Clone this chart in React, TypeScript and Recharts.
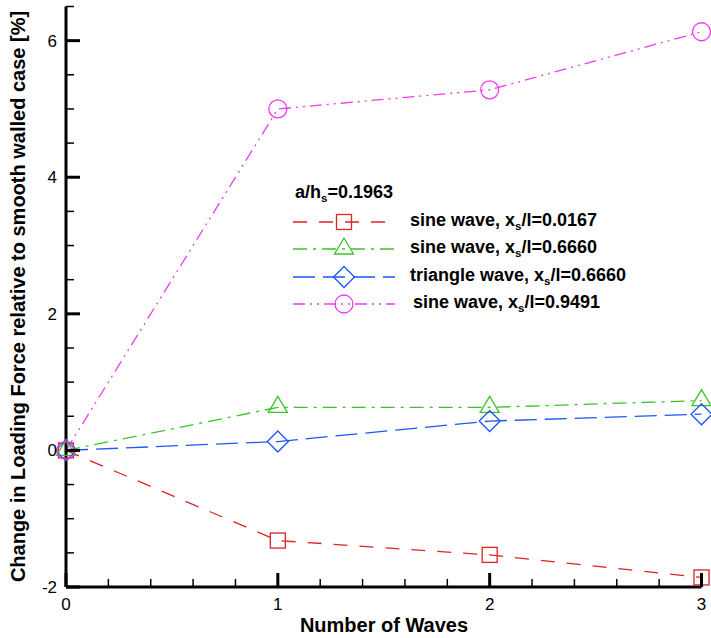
import React from 'react'
import { Line, LineChart, XAxis, YAxis } from 'recharts'

// number of waves on the wall
const waves = [0, 1, 2, 3]

// change in loading force [%] for each wall shape
const sineXs0167 = [0, -1.32, -1.53, -1.86]
const sineXs6660 = [0, 0.63, 0.63, 0.73]
const triangleXs6660 = [0, 0.13, 0.43, 0.53]
const sineXs9491 = [0, 5.0, 5.28, 6.13]

const xMajorTicks = [0, 1, 2, 3]
const yMajorTicks = [-2, 0, 2, 4, 6]
// minor ticks every 0.2 on x and every 0.5 on y
const xAllTicks = Array.from({ length: 16 }, (_, i) => Math.round(i * 2) / 10)
const yAllTicks = Array.from({ length: 18 }, (_, i) => -2 + i * 0.5)

const legendTitle = { base: 'a/h', sub: 's', rest: '=0.1963' }

type Shape = 'square' | 'triangle' | 'diamond' | 'circle'

const series: { key: string; wave: string; ratio: string; color: string; dash: string; shape: Shape }[] = [
  { key: 'sine0167', wave: 'sine wave', ratio: '0.0167', color: '#e02222', dash: '14 12', shape: 'square' },
  { key: 'sine6660', wave: 'sine wave', ratio: '0.6660', color: '#3cc42a', dash: '14 6 3 6', shape: 'triangle' },
  { key: 'tri6660', wave: 'triangle wave', ratio: '0.6660', color: '#1f55f5', dash: '22 8', shape: 'diamond' },
  { key: 'sine9491', wave: 'sine wave', ratio: '0.9491', color: '#ee3cee', dash: '12 5 2 5 2 5', shape: 'circle' },
]

const rows = waves.map((n, i) => ({
  n,
  sine0167: sineXs0167[i],
  sine6660: sineXs6660[i],
  tri6660: triangleXs6660[i],
  sine9491: sineXs9491[i],
}))

const FONT = '"Liberation Sans", Arial, Helvetica, sans-serif'

const isMajor = (v: number, majors: number[]) => majors.some((m) => Math.abs(m - v) < 1e-6)

function Marker({ cx, cy, shape, color }: { cx: number; cy: number; shape: Shape; color: string }) {
  const common = { fill: 'none', stroke: color, strokeWidth: 1.3 }
  if (shape === 'square') return <rect x={cx - 7.5} y={cy - 7.5} width={15} height={15} {...common} />
  if (shape === 'triangle')
    return <polygon points={`${cx},${cy - 11} ${cx + 9.5},${cy + 5} ${cx - 9.5},${cy + 5}`} {...common} />
  if (shape === 'diamond')
    return <polygon points={`${cx},${cy - 10.5} ${cx + 10.5},${cy} ${cx},${cy + 10.5} ${cx - 10.5},${cy}`} {...common} />
  return <circle cx={cx} cy={cy} r={9} {...common} />
}

function YTick({ x, y, payload }: any) {
  if (!isMajor(payload.value, yMajorTicks)) {
    return <line x1={x} y1={y} x2={x + 8} y2={y} stroke="#000" strokeWidth={1.5} />
  }
  return (
    <g>
      <line x1={x} y1={y} x2={x + 14} y2={y} stroke="#000" strokeWidth={3} />
      <text x={x - 9} y={y + 6} textAnchor="end" fontSize={17} fontFamily={FONT} fill="#000">
        {payload.value}
      </text>
    </g>
  )
}

function XTick({ x, y, payload }: any) {
  if (!isMajor(payload.value, xMajorTicks)) {
    return <line x1={x} y1={y} x2={x} y2={y - 8} stroke="#000" strokeWidth={1.5} />
  }
  return (
    <g>
      <line x1={x} y1={y} x2={x} y2={y - 14} stroke="#000" strokeWidth={3} />
      <text x={x} y={y + 23} textAnchor="middle" fontSize={17} fontFamily={FONT} fill="#000">
        {payload.value}
      </text>
    </g>
  )
}

function LegendBox() {
  const rowY = [42, 69, 97, 124]
  const textX = [130, 130, 130, 133]
  return (
    <svg width={420} height={140} style={{ fontFamily: FONT, overflow: 'visible', display: 'block' }}>
      <text x={15} y={18} fontSize={18} fontWeight="bold">
        {legendTitle.base}
        <tspan dy={4} fontSize={11.5}>{legendTitle.sub}</tspan>
        <tspan dy={-4}>{legendTitle.rest}</tspan>
      </text>
      {series.map((s, i) => (
        <g key={s.key}>
          <line x1={13} y1={rowY[i]} x2={115} y2={rowY[i]} stroke={s.color} strokeWidth={1.3} strokeDasharray={s.dash} />
          <Marker cx={64} cy={rowY[i]} shape={s.shape} color={s.color} />
          <text x={textX[i]} y={rowY[i] + 4} fontSize={18} fontWeight="bold">
            {s.wave}, x
            <tspan dy={4} fontSize={11.5}>s</tspan>
            <tspan dy={-4}>/l={s.ratio}</tspan>
          </text>
        </g>
      ))}
    </svg>
  )
}

export default function App() {
  return (
    <div style={{ position: 'absolute', left: 0, top: 0, width: 711, height: 638, background: '#fff' }}>
      <LineChart
        width={711}
        height={638}
        data={rows}
        margin={{ top: 6.5, right: 9.5, bottom: 50, left: 65 }}
        style={{ fontFamily: FONT }}
      >
        <XAxis
          dataKey="n"
          type="number"
          domain={[0, 3]}
          ticks={xAllTicks}
          interval={0}
          height={1}
          tickSize={0}
          tickMargin={0}
          tickLine={false}
          axisLine={{ stroke: '#000', strokeWidth: 3 }}
          tick={<XTick />}
        />
        <YAxis
          type="number"
          domain={[-2, 6.5]}
          ticks={yAllTicks}
          interval={0}
          width={1}
          tickSize={0}
          tickMargin={0}
          tickLine={false}
          axisLine={{ stroke: '#000', strokeWidth: 3 }}
          tick={<YTick />}
        />
        {series.map((s) => (
          <Line
            key={s.key}
            dataKey={s.key}
            stroke={s.color}
            strokeWidth={1.3}
            strokeDasharray={s.dash}
            isAnimationActive={false}
            dot={(p: any) => <Marker key={`${s.key}-${p.index}`} cx={p.cx} cy={p.cy} shape={s.shape} color={s.color} />}
            activeDot={false}
          />
        ))}
      </LineChart>
      <div style={{ position: 'absolute', left: 280, top: 180 }}>
        <LegendBox />
      </div>
      <svg
        width={711}
        height={638}
        style={{ position: 'absolute', left: 0, top: 0, pointerEvents: 'none', fontFamily: FONT }}
      >
        <text transform="translate(25,296.5) rotate(-90)" textAnchor="middle" fontSize={20} fontWeight="bold">
          Change in Loading Force relative to smooth walled case [%]
        </text>
        <text x={384} y={632} textAnchor="middle" fontSize={20} fontWeight="bold">
          Number of Waves
        </text>
      </svg>
    </div>
  )
}
